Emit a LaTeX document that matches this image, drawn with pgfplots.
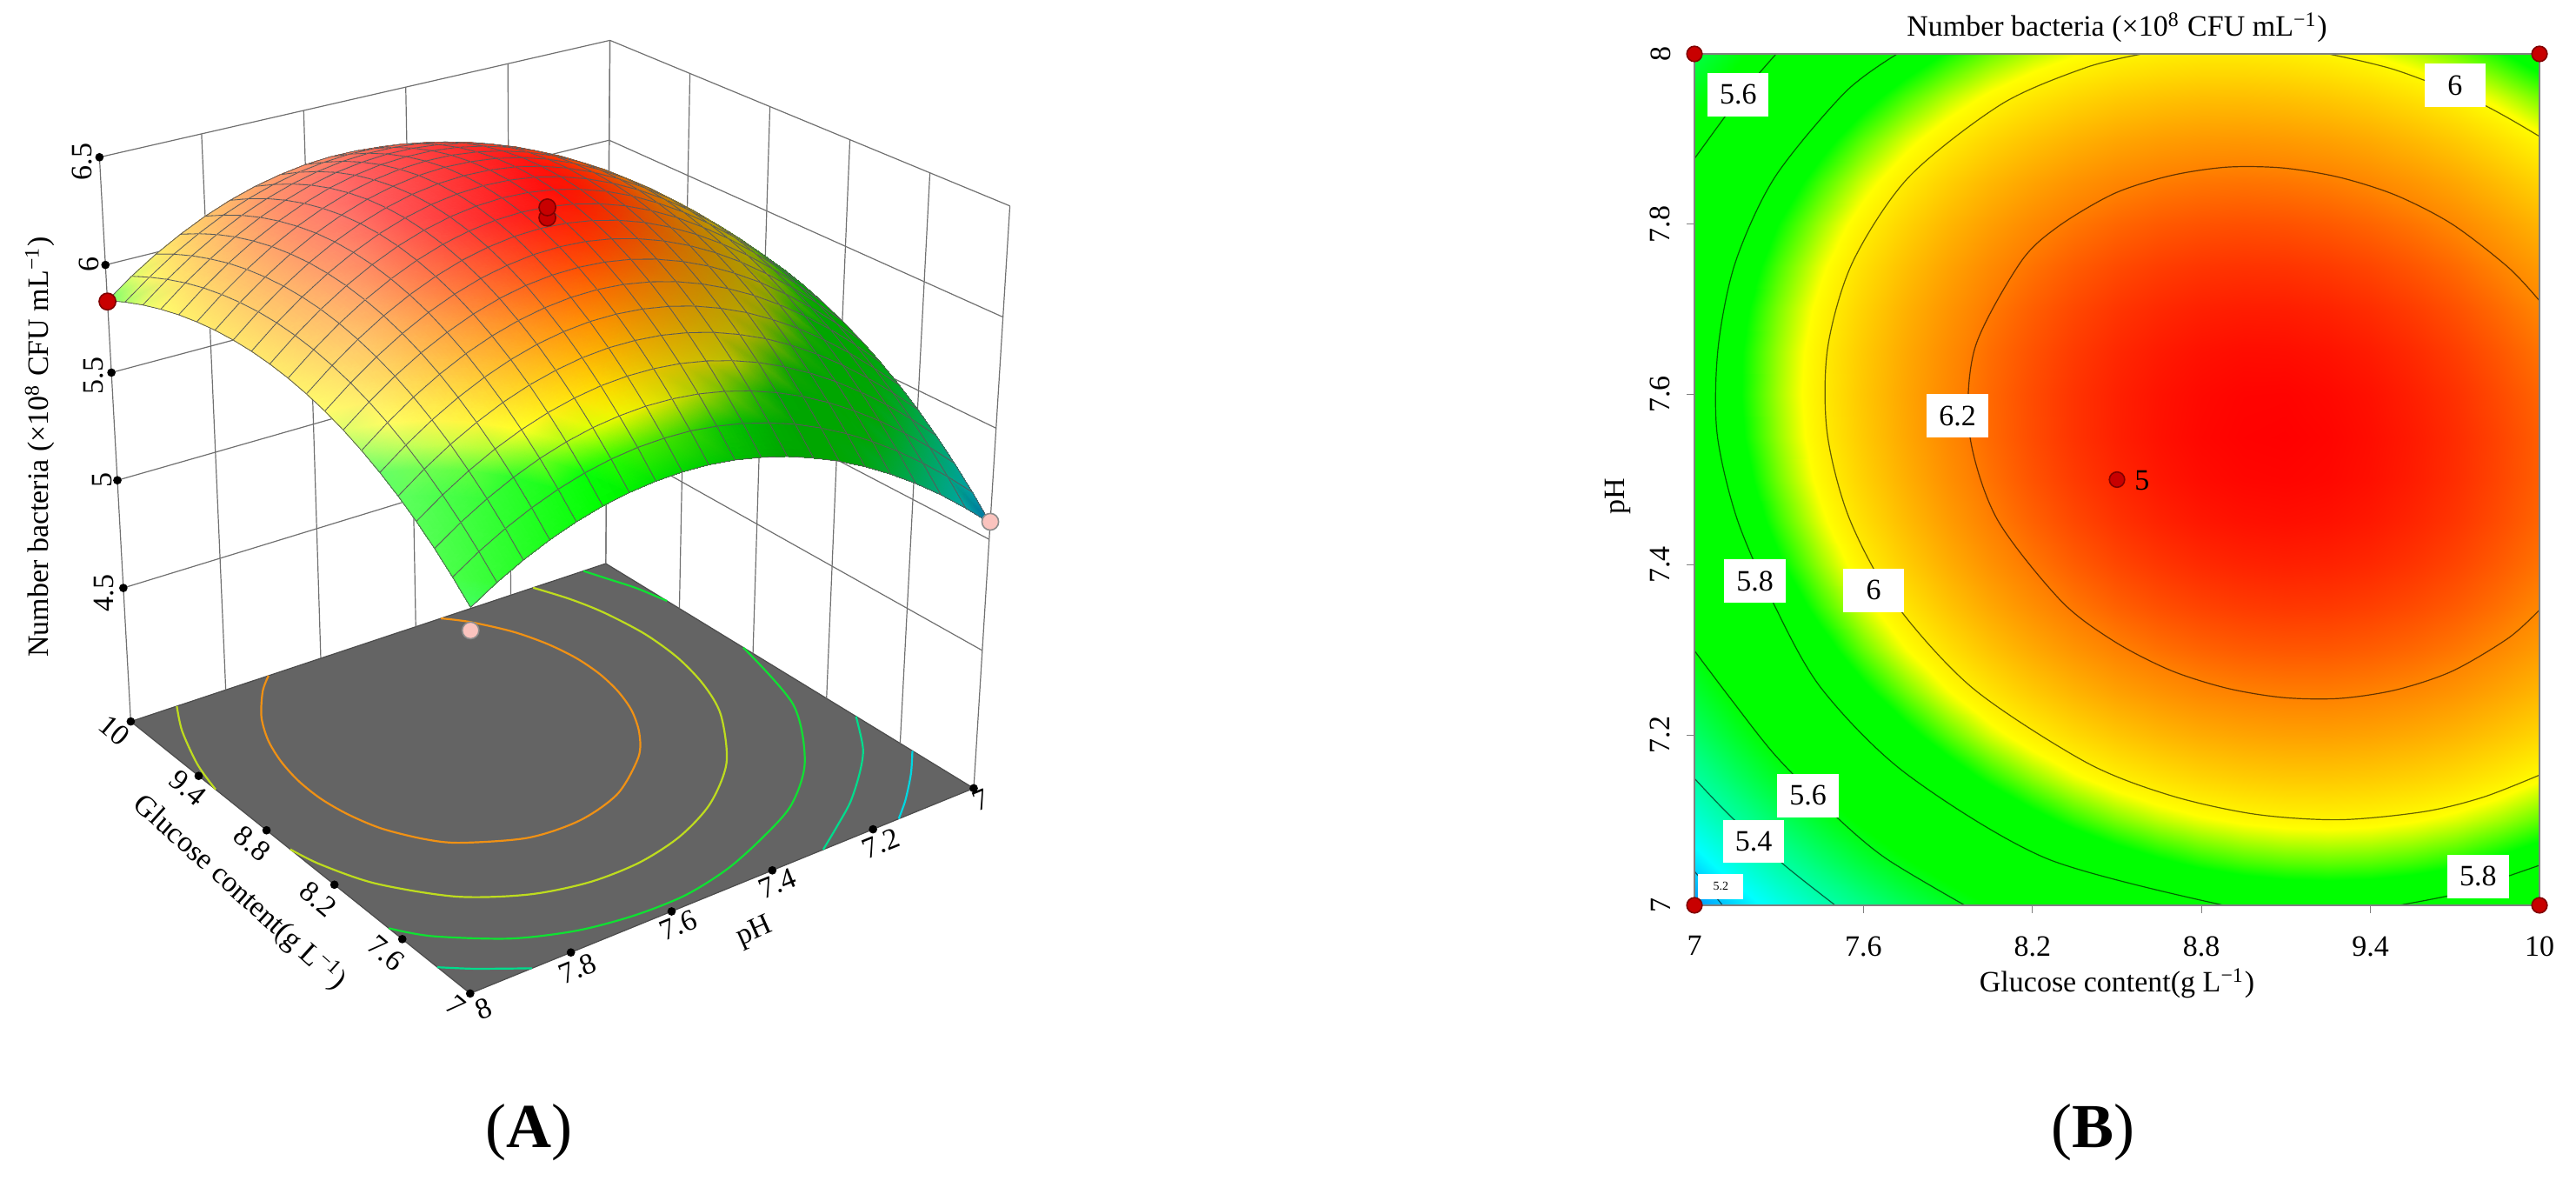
\documentclass[border=0pt]{standalone}
\usepackage{fontspec}
\setmainfont{Liberation Serif}
\usepackage{pgfplots}
\usepackage{pgfplotstable}
\pgfplotsset{compat=1.18}
\newcommand\lf{\fontsize{8.5}{10}\selectfont}
\newcommand\unitstr{(×10\textsuperscript{8} CFU mL\textsuperscript{−1})}
\definecolor{floorgray}{RGB}{100,100,100}
\definecolor{wallgray}{RGB}{112,112,112}
\definecolor{ptred}{RGB}{200,0,0}
\definecolor{ptpink}{RGB}{250,195,190}

% camera of the 3D panel: (glucose, pH, bacteria) to pixels of the figure, and the lit colours
\tikzset{declare function={
  fa(\g)=(10-\g)/3; fb(\p)=8-\p; fc(\n)=(\n-3.88)/2.62;
  px(\aa,\bb,\cc)=(188+488*\aa+683*\bb+41*\aa*\bb+\cc*(-45+46*\aa+51*\bb))/1.25;
  py(\aa,\bb,\cc)=(1037+391*\aa-227*\bb-68*\aa*\bb+\cc*(-811-85*\aa+59*\bb-600*\aa*(1-\aa)*\bb*(1-\bb)))/1.25;
  camx(\g,\p,\n)=px(fa(\g),fb(\p),fc(\n));
  camy(\g,\p,\n)=py(fa(\g),fb(\p),fc(\n));
  cR(\z)=max(0,min(1,(\z-5.87)/0.11));
  cG(\z)=max(0,min(1,0.51+2.882*(\z-5.05),1-2.227*(\z-5.98),0.51-2.833*(\z-6.2)));
  cB(\z)=max(0,min(1,1-2.45*(\z-5.22),0.51-2.833*(\z-5.42)));
  lit(\g,\p)=max(-0.35,min(0.42,0.22+0.2*(\g-9.05)+1.0*(\p-7.555)));
  mixc(\cv,\sv)=\cv+(1-\cv)*max(\sv,0)-\cv*max(-\sv,0);
  vR=mixc(cR(\thisrow{n}+0.04),lit(\thisrow{g},\thisrow{p}));
  vG=mixc(cG(\thisrow{n}+0.04),lit(\thisrow{g},\thisrow{p}));
  vB=mixc(cB(\thisrow{n}+0.04),lit(\thisrow{g},\thisrow{p}));
}}
\pgfplotsset{
  table/cam/.style={x expr={camx(\thisrow{g},\thisrow{p},\thisrow{n})},y expr={camy(\thisrow{g},\thisrow{p},\thisrow{n})}},
  table/camfloor/.style={x expr={camx(\thisrow{g},\thisrow{p},3.88)},y expr={camy(\thisrow{g},\thisrow{p},3.88)}},
  ctline/.style={smooth, black, draw opacity=0.6, line width=0.3pt},
}

\pgfplotstableread{
g p n
10 7 5.734
9.85 7 5.763
9.7 7 5.786
9.55 7 5.801
9.4 7 5.811
9.25 7 5.814
9.1 7 5.810
8.95 7 5.800
8.8 7 5.783
8.65 7 5.760
8.5 7 5.730
8.35 7 5.693
8.2 7 5.650
8.05 7 5.601
7.9 7 5.545
7.75 7 5.483
7.6 7 5.414
7.45 7 5.338
7.3 7 5.256
7.15 7 5.168
7 7 5.073
10 7.05 5.828
9.85 7.05 5.857
9.7 7.05 5.881
9.55 7.05 5.897
9.4 7.05 5.907
9.25 7.05 5.911
9.1 7.05 5.908
8.95 7.05 5.899
8.8 7.05 5.883
8.65 7.05 5.860
8.5 7.05 5.831
8.35 7.05 5.796
8.2 7.05 5.754
8.05 7.05 5.705
7.9 7.05 5.650
7.75 7.05 5.588
7.6 7.05 5.520
7.45 7.05 5.446
7.3 7.05 5.364
7.15 7.05 5.277
7 7.05 5.182
10 7.1 5.912
9.85 7.1 5.942
9.7 7.1 5.966
9.55 7.1 5.984
9.4 7.1 5.995
9.25 7.1 5.999
9.1 7.1 5.997
8.95 7.1 5.988
8.8 7.1 5.973
8.65 7.1 5.952
8.5 7.1 5.924
8.35 7.1 5.889
8.2 7.1 5.848
8.05 7.1 5.800
7.9 7.1 5.746
7.75 7.1 5.685
7.6 7.1 5.617
7.45 7.1 5.544
7.3 7.1 5.463
7.15 7.1 5.376
7 7.1 5.283
10 7.15 5.986
9.85 7.15 6.018
9.7 7.15 6.043
9.55 7.15 6.061
9.4 7.15 6.073
9.25 7.15 6.078
9.1 7.15 6.077
8.95 7.15 6.069
8.8 7.15 6.055
8.65 7.15 6.034
8.5 7.15 6.007
8.35 7.15 5.973
8.2 7.15 5.932
8.05 7.15 5.885
7.9 7.15 5.832
7.75 7.15 5.772
7.6 7.15 5.705
7.45 7.15 5.632
7.3 7.15 5.553
7.15 7.15 5.467
7 7.15 5.374
10 7.2 6.052
9.85 7.2 6.084
9.7 7.2 6.110
9.55 7.2 6.129
9.4 7.2 6.142
9.25 7.2 6.148
9.1 7.2 6.147
8.95 7.2 6.140
8.8 7.2 6.127
8.65 7.2 6.107
8.5 7.2 6.080
8.35 7.2 6.047
8.2 7.2 6.008
8.05 7.2 5.962
7.9 7.2 5.909
7.75 7.2 5.850
7.6 7.2 5.784
7.45 7.2 5.712
7.3 7.2 5.633
7.15 7.2 5.548
7 7.2 5.456
10 7.25 6.108
9.85 7.25 6.141
9.7 7.25 6.168
9.55 7.25 6.188
9.4 7.25 6.201
9.25 7.25 6.208
9.1 7.25 6.208
8.95 7.25 6.202
8.8 7.25 6.190
8.65 7.25 6.170
8.5 7.25 6.145
8.35 7.25 6.112
8.2 7.25 6.074
8.05 7.25 6.028
7.9 7.25 5.977
7.75 7.25 5.918
7.6 7.25 5.854
7.45 7.25 5.782
7.3 7.25 5.704
7.15 7.25 5.620
7 7.25 5.529
10 7.3 6.155
9.85 7.3 6.189
9.7 7.3 6.216
9.55 7.3 6.237
9.4 7.3 6.251
9.25 7.3 6.259
9.1 7.3 6.260
8.95 7.3 6.255
8.8 7.3 6.243
8.65 7.3 6.225
8.5 7.3 6.200
8.35 7.3 6.168
8.2 7.3 6.131
8.05 7.3 6.086
7.9 7.3 6.035
7.75 7.3 5.978
7.6 7.3 5.914
7.45 7.3 5.843
7.3 7.3 5.766
7.15 7.3 5.682
7 7.3 5.592
10 7.35 6.192
9.85 7.35 6.227
9.7 7.35 6.255
9.55 7.35 6.277
9.4 7.35 6.292
9.25 7.35 6.301
9.1 7.35 6.303
8.95 7.35 6.298
8.8 7.35 6.287
8.65 7.35 6.270
8.5 7.35 6.246
8.35 7.35 6.215
8.2 7.35 6.178
8.05 7.35 6.134
7.9 7.35 6.084
7.75 7.35 6.027
7.6 7.35 5.964
7.45 7.35 5.895
7.3 7.35 5.818
7.15 7.35 5.736
7 7.35 5.646
10 7.4 6.221
9.85 7.4 6.256
9.7 7.4 6.285
9.55 7.4 6.308
9.4 7.4 6.324
9.25 7.4 6.333
9.1 7.4 6.336
8.95 7.4 6.332
8.8 7.4 6.322
8.65 7.4 6.305
8.5 7.4 6.282
8.35 7.4 6.252
8.2 7.4 6.216
8.05 7.4 6.173
7.9 7.4 6.124
7.75 7.4 6.068
7.6 7.4 6.006
7.45 7.4 5.937
7.3 7.4 5.861
7.15 7.4 5.779
7 7.4 5.691
10 7.45 6.240
9.85 7.45 6.276
9.7 7.45 6.306
9.55 7.45 6.329
9.4 7.45 6.346
9.25 7.45 6.356
9.1 7.45 6.360
8.95 7.45 6.357
8.8 7.45 6.348
8.65 7.45 6.332
8.5 7.45 6.309
8.35 7.45 6.280
8.2 7.45 6.245
8.05 7.45 6.203
7.9 7.45 6.154
7.75 7.45 6.099
7.6 7.45 6.038
7.45 7.45 5.970
7.3 7.45 5.895
7.15 7.45 5.814
7 7.45 5.726
10 7.5 6.249
9.85 7.5 6.286
9.7 7.5 6.317
9.55 7.5 6.341
9.4 7.5 6.359
9.25 7.5 6.370
9.1 7.5 6.374
8.95 7.5 6.372
8.8 7.5 6.364
8.65 7.5 6.349
8.5 7.5 6.327
8.35 7.5 6.299
8.2 7.5 6.265
8.05 7.5 6.223
7.9 7.5 6.176
7.75 7.5 6.121
7.6 7.5 6.061
7.45 7.5 5.994
7.3 7.5 5.920
7.15 7.5 5.839
7 7.5 5.753
10 7.55 6.250
9.85 7.55 6.288
9.7 7.55 6.319
9.55 7.55 6.344
9.4 7.55 6.362
9.25 7.55 6.374
9.1 7.55 6.380
8.95 7.55 6.378
8.8 7.55 6.371
8.65 7.55 6.357
8.5 7.55 6.336
8.35 7.55 6.309
8.2 7.55 6.275
8.05 7.55 6.234
7.9 7.55 6.188
7.75 7.55 6.134
7.6 7.55 6.074
7.45 7.55 6.008
7.3 7.55 5.935
7.15 7.55 5.856
7 7.55 5.770
10 7.6 6.241
9.85 7.6 6.279
9.7 7.6 6.312
9.55 7.6 6.337
9.4 7.6 6.357
9.25 7.6 6.369
9.1 7.6 6.376
8.95 7.6 6.375
8.8 7.6 6.368
8.65 7.6 6.355
8.5 7.6 6.335
8.35 7.6 6.309
8.2 7.6 6.276
8.05 7.6 6.236
7.9 7.6 6.190
7.75 7.6 6.138
7.6 7.6 6.079
7.45 7.6 6.013
7.3 7.6 5.941
7.15 7.6 5.862
7 7.6 5.777
10 7.65 6.222
9.85 7.65 6.262
9.7 7.65 6.295
9.55 7.65 6.322
9.4 7.65 6.342
9.25 7.65 6.355
9.1 7.65 6.362
8.95 7.65 6.363
8.8 7.65 6.357
8.65 7.65 6.344
8.5 7.65 6.325
8.35 7.65 6.299
8.2 7.65 6.267
8.05 7.65 6.229
7.9 7.65 6.183
7.75 7.65 6.132
7.6 7.65 6.074
7.45 7.65 6.009
7.3 7.65 5.937
7.15 7.65 5.860
7 7.65 5.775
10 7.7 6.195
9.85 7.7 6.235
9.7 7.7 6.269
9.55 7.7 6.297
9.4 7.7 6.318
9.25 7.7 6.332
9.1 7.7 6.340
8.95 7.7 6.341
8.8 7.7 6.336
8.65 7.7 6.324
8.5 7.7 6.306
8.35 7.7 6.281
8.2 7.7 6.250
8.05 7.7 6.212
7.9 7.7 6.167
7.75 7.7 6.117
7.6 7.7 6.059
7.45 7.7 5.995
7.3 7.7 5.925
7.15 7.7 5.848
7 7.7 5.764
10 7.75 6.158
9.85 7.75 6.199
9.7 7.75 6.234
9.55 7.75 6.262
9.4 7.75 6.284
9.25 7.75 6.299
9.1 7.75 6.308
8.95 7.75 6.310
8.8 7.75 6.306
8.65 7.75 6.295
8.5 7.75 6.277
8.35 7.75 6.253
8.2 7.75 6.223
8.05 7.75 6.186
7.9 7.75 6.142
7.75 7.75 6.092
7.6 7.75 6.036
7.45 7.75 5.972
7.3 7.75 5.903
7.15 7.75 5.827
7 7.75 5.744
10 7.8 6.112
9.85 7.8 6.154
9.7 7.8 6.190
9.55 7.8 6.219
9.4 7.8 6.241
9.25 7.8 6.257
9.1 7.8 6.267
8.95 7.8 6.270
8.8 7.8 6.266
8.65 7.8 6.256
8.5 7.8 6.239
8.35 7.8 6.216
8.2 7.8 6.187
8.05 7.8 6.150
7.9 7.8 6.108
7.75 7.8 6.058
7.6 7.8 6.003
7.45 7.8 5.940
7.3 7.8 5.872
7.15 7.8 5.796
7 7.8 5.714
10 7.85 6.056
9.85 7.85 6.099
9.7 7.85 6.136
9.55 7.85 6.166
9.4 7.85 6.189
9.25 7.85 6.206
9.1 7.85 6.216
8.95 7.85 6.220
8.8 7.85 6.217
8.65 7.85 6.208
8.5 7.85 6.192
8.35 7.85 6.170
8.2 7.85 6.141
8.05 7.85 6.106
7.9 7.85 6.064
7.75 7.85 6.015
7.6 7.85 5.960
7.45 7.85 5.899
7.3 7.85 5.831
7.15 7.85 5.756
7 7.85 5.675
10 7.9 5.992
9.85 7.9 6.036
9.7 7.9 6.073
9.55 7.9 6.103
9.4 7.9 6.128
9.25 7.9 6.145
9.1 7.9 6.156
8.95 7.9 6.161
8.8 7.9 6.159
8.65 7.9 6.151
8.5 7.9 6.136
8.35 7.9 6.114
8.2 7.9 6.086
8.05 7.9 6.052
7.9 7.9 6.011
7.75 7.9 5.963
7.6 7.9 5.909
7.45 7.9 5.848
7.3 7.9 5.781
7.15 7.9 5.707
7 7.9 5.627
10 7.95 5.918
9.85 7.95 5.962
9.7 7.95 6.000
9.55 7.95 6.032
9.4 7.95 6.057
9.25 7.95 6.075
9.1 7.95 6.087
8.95 7.95 6.093
8.8 7.95 6.092
8.65 7.95 6.084
8.5 7.95 6.070
8.35 7.95 6.049
8.2 7.95 6.022
8.05 7.95 5.988
7.9 7.95 5.948
7.75 7.95 5.901
7.6 7.95 5.848
7.45 7.95 5.788
7.3 7.95 5.722
7.15 7.95 5.649
7 7.95 5.570
10 8 5.834
9.85 8 5.880
9.7 8 5.919
9.55 8 5.951
9.4 8 5.977
9.25 8 5.996
9.1 8 6.009
8.95 8 6.015
8.8 8 6.015
8.65 8 6.008
8.5 8 5.995
8.35 8 5.975
8.2 8 5.949
8.05 8 5.916
7.9 8 5.876
7.75 8 5.830
7.6 8 5.778
7.45 8 5.719
7.3 8 5.653
7.15 8 5.581
7 8 5.503
}\grid

% contour lines
\pgfplotstableread{
g p
10 7.71
9.89 7.749
9.69 7.80
9.49 7.834
9.29 7.855
9.09 7.866
8.89 7.867
8.69 7.857
8.49 7.836
8.29 7.797
8.157 7.755
7.996 7.655
7.976 7.555
8.072 7.455
8.30 7.358
8.49 7.31
8.69 7.276
8.89 7.255
9.09 7.244
9.29 7.243
9.49 7.253
9.69 7.275
9.89 7.314
10 7.347
}\cSixTwo
\pgfplotstableread{
g p
8.59 8
8.39 7.984
8.09 7.941
7.76 7.855
7.561 7.755
7.473 7.655
7.471 7.555
7.549 7.455
7.712 7.355
7.988 7.255
8.39 7.168
8.69 7.129
8.99 7.107
9.29 7.1005
9.59 7.11
9.8 7.127
10 7.153
}\cSixA
\pgfplotstableread{
g p
9.25 8
9.49 7.981
9.79 7.942
10 7.903
}\cSixB
\pgfplotstableread{
g p
7.72 8
7.535 7.955
7.285 7.855
7.145 7.755
7.084 7.655
7.08 7.555
7.15 7.455
7.28 7.355
7.45 7.255
7.75 7.155
8.25 7.055
8.88 7
}\cFiveEightA
\pgfplotstableread{
g p
9.5 7
9.7 7.013
9.86 7.031
10 7.047
}\cFiveEightB
\pgfplotstableread{
g p
7.29 8
7.18 7.958
7.09 7.918
7 7.877
}\cFiveSixA
\pgfplotstableread{
g p
7 7.299
7.13 7.242
7.29 7.175
7.50 7.105
7.68 7.055
7.96 7
}\cFiveSixB
\pgfplotstableread{
g p
7 7.149
7.13 7.104
7.32 7.047
7.50 7
}\cFiveFour
\pgfplotstableread{
g p
7 7.04
7.05 7.02
7.1 7
}\cFiveTwo

\begin{document}
\begin{tikzpicture}
\useasboundingbox (0,0) rectangle (740.75pt,339.5pt);

% (A) surface, in pixel space of the figure
\begin{axis}[
    at={(0pt,0pt)}, anchor=south west,
    scale only axis, width=312.5pt, height=339.5pt,
    xmin=0, xmax=1250, ymin=0, ymax=1358, y dir=reverse,
    hide axis, clip=false,
  ]
  \addplot[fill=floorgray, draw=black!70, line width=0.3pt] table[camfloor] {
    g p
    10 8
    7 8
    7 7
    10 7
  } -- cycle;
  \pgfplotsinvokeforeach{8,7.8,7.6,7.4,7.2,7}{
    \addplot[wallgray, line width=0.3pt] table[row sep=\\, cam] {g p n\\ 10 #1 3.88\\ 10 #1 6.5\\};
  }
  \pgfplotsinvokeforeach{10,9.4,8.8,8.2,7.6,7}{
    \addplot[wallgray, line width=0.3pt] table[row sep=\\, cam] {g p n\\ #1 7 3.88\\ #1 7 6.5\\};
  }
  \pgfplotsinvokeforeach{4.5,5,5.5,6,6.5}{
    \addplot[wallgray, line width=0.3pt] table[row sep=\\, cam] {g p n\\ 10 8 #1\\ 10 7 #1\\ 7 7 #1\\};
  }
  \addplot[smooth, line width=0.55pt, color={rgb,255:red,240;green,145;blue,20}] table[camfloor] {\cSixTwo};
  \addplot[smooth, line width=0.55pt, color={rgb,255:red,190;green,220;blue,30}] table[camfloor] {\cSixA};
  \addplot[smooth, line width=0.55pt, color={rgb,255:red,190;green,220;blue,30}] table[camfloor] {\cSixB};
  \addplot[smooth, line width=0.55pt, color={rgb,255:red,15;green,225;blue,50}] table[camfloor] {\cFiveEightA};
  \addplot[smooth, line width=0.55pt, color={rgb,255:red,15;green,225;blue,50}] table[camfloor] {\cFiveEightB};
  \addplot[smooth, line width=0.55pt, color={rgb,255:red,0;green,220;blue,140}] table[camfloor] {\cFiveSixA};
  \addplot[smooth, line width=0.55pt, color={rgb,255:red,0;green,220;blue,140}] table[camfloor] {\cFiveSixB};
  \addplot[smooth, line width=0.55pt, color={rgb,255:red,0;green,215;blue,225}] table[camfloor] {\cFiveFour};

  \addplot[surf, shader=faceted interp, faceted color=black!65, line width=0.2pt, mesh/rows=21,
    mesh/color input=explicit mathparse,
    point meta={symbolic={vR,vG,vB}},
  ] table[cam] {\grid};

  % tick dots
  \addplot[only marks, mark=*, mark size=1pt, black] table[cam] {
    g p n
    10 8 6.5
    10 8 6
    10 8 5.5
    10 8 5
    10 8 4.5
    10 8 3.88
    9.4 8 3.88
    8.8 8 3.88
    8.2 8 3.88
    7.6 8 3.88
    7 8 3.88
    7 7.8 3.88
    7 7.6 3.88
    7 7.4 3.88
    7 7.2 3.88
    7 7 3.88
  };
  % design points
  \addplot[only marks, mark=*, mark size=2.4pt, color=black!50!red, fill=ptred] table[cam] {
    g p n
    10 8 5.83
    8.5 7.5 6.28
    8.5 7.5 6.325
  };
  \addplot[only marks, mark=*, mark size=2.4pt, color=black!45, fill=ptpink] table[cam] {
    g p n
    7 8 5.406
    7 7 5.079
  };

  \begin{scope}[font=\lf]
    \node[rotate=90] at (axis cs:94,186) {6.5};
    \node[rotate=90] at (axis cs:102,304) {6};
    \node[rotate=90] at (axis cs:108,432) {5.5};
    \node[rotate=90] at (axis cs:118,552) {5};
    \node[rotate=90] at (axis cs:120,682) {4.5};
    \node[rotate=90] at (axis cs:46,514) {Number bacteria \unitstr};
    \node[rotate=-40] at (axis cs:132,840) {10};
    \node[rotate=-40] at (axis cs:216,906) {9.4};
    \node[rotate=-40] at (axis cs:290,970) {8.8};
    \node[rotate=-40] at (axis cs:366,1034) {8.2};
    \node[rotate=-40] at (axis cs:444,1096) {7.6};
    \node[rotate=-40] at (axis cs:524,1156) {7};
    \node[rotate=22] at (axis cs:556,1160) {8};
    \node[rotate=22] at (axis cs:664,1114) {7.8};
    \node[rotate=22] at (axis cs:780,1064) {7.6};
    \node[rotate=22] at (axis cs:894,1016) {7.4};
    \node[rotate=22] at (axis cs:1013,970) {7.2};
    \node[rotate=22] at (axis cs:1128,920) {7};
    \node[rotate=-42] at (axis cs:276,1026) {Glucose content(g L\textsuperscript{−1})};
    \node[rotate=24] at (axis cs:868,1072) {pH};
  \end{scope}
\end{axis}

% (B) contour plot
\begin{axis}[
    at={(487.25pt,79.25pt)}, anchor=south west,
    scale only axis, width=243pt, height=244.75pt,
    xmin=7, xmax=10, ymin=7, ymax=8,
    axis on top, axis line style={black!50, line width=0.3pt},
    tick style={black!50, line width=0.3pt}, tick align=outside,
    major tick length=2.2pt, xtick pos=bottom, ytick pos=left,
    xtick={7,7.6,8.2,8.8,9.4,10}, xticklabels={7,7.6,8.2,8.8,9.4,10},
    ytick={7,7.2,7.4,7.6,7.8,8}, yticklabels={7,7.2,7.4,7.6,7.8,8},
    tick label style={font=\lf},
    yticklabel style={rotate=90, anchor=south, inner sep=0pt, yshift=4.5pt},
    xticklabel style={inner sep=0pt, yshift=-6.5pt, anchor=north},
    label style={font=\lf},
    xlabel={Glucose content(g L\textsuperscript{−1})},
    ylabel={pH},
    title={Number bacteria \unitstr},
    title style={font=\lf, at={(axis description cs:0.5,1)}, anchor=south, yshift=-4pt, inner sep=1pt},
    xlabel style={at={(axis description cs:0.5,0)}, anchor=north, yshift=-17pt, inner sep=1pt},
    ylabel style={at={(axis description cs:0,0.48)}, anchor=south, yshift=17pt, inner sep=1pt},
    colormap={de}{rgb255(0pt)=(0,130,255); rgb255(17pt)=(0,255,255); rgb255(37pt)=(0,255,130);
      rgb255(55pt)=(0,255,0); rgb255(82pt)=(0,255,0); rgb255(93pt)=(255,255,0);
      rgb255(115pt)=(255,130,0); rgb255(133pt)=(255,0,0)},
    point meta min=5.05, point meta max=6.38,
    clip=false,
  ]
  \addplot[surf, shader=interp, mesh/rows=21, point meta=\thisrow{n}] table[x=g, y=p] {\grid};
  \addplot[ctline] table[x=g, y=p] {\cSixTwo};
  \addplot[ctline] table[x=g, y=p] {\cSixA};
  \addplot[ctline] table[x=g, y=p] {\cSixB};
  \addplot[ctline] table[x=g, y=p] {\cFiveEightA};
  \addplot[ctline] table[x=g, y=p] {\cFiveEightB};
  \addplot[ctline] table[x=g, y=p] {\cFiveSixA};
  \addplot[ctline] table[x=g, y=p] {\cFiveSixB};
  \addplot[ctline] table[x=g, y=p] {\cFiveFour};
  \addplot[ctline] table[x=g, y=p] {\cFiveTwo};
  \addplot[only marks, mark=*, mark size=2.2pt, color=black!50!red, fill=ptred] table {
    7 7
    7 8
    10 7
    10 8
    8.5 7.5
  };
  \begin{scope}[font=\lf, every node/.style={fill=white, inner sep=0pt, minimum width=17.6pt, minimum height=12.4pt}]
    \node at (axis cs:7.155,7.952) {5.6};
    \node at (axis cs:9.70,7.963) {6};
    \node at (axis cs:7.934,7.575) {6.2};
    \node at (axis cs:7.215,7.381) {5.8};
    \node at (axis cs:7.636,7.370) {6};
    \node at (axis cs:7.403,7.129) {5.6};
    \node at (axis cs:7.21,7.075) {5.4};
    \node at (axis cs:9.782,7.034) {5.8};
    \node[minimum width=13pt, minimum height=7.4pt, font=\fontsize{3.5}{4}\selectfont] at (axis cs:7.094,7.022) {5.2};
  \end{scope}
  \node[font=\lf, anchor=west, inner sep=0pt] at (axis cs:8.56,7.499) {5};
\end{axis}

\node[font=\fontsize{18}{20}\selectfont] at (152pt,14pt) {(\textbf{A})};
\node[font=\fontsize{18}{20}\selectfont] at (601.75pt,14pt) {(\textbf{B})};
\end{tikzpicture}
\end{document}
